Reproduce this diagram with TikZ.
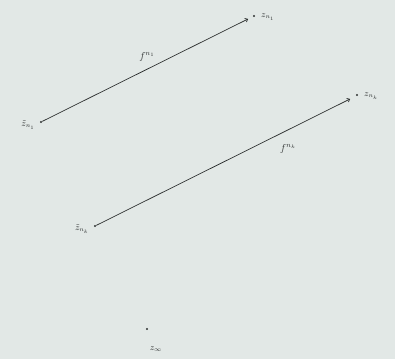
\documentclass[tikz,border=0pt]{standalone}
\usetikzlibrary{arrows.meta}
\definecolor{paper}{RGB}{226,232,230}
\definecolor{ink}{RGB}{45,48,48}
\begin{document}
\begin{tikzpicture}[x=1pt,y=-1pt,
  pt/.style={circle,fill=ink,inner sep=0pt,minimum size=2.4pt},
  lbl/.style={text=ink,inner sep=1pt,font=\small},
  flbl/.style={text=ink,inner sep=1pt,font=\normalsize},
  conn/.style={draw=ink,line width=0.7pt,-{To[length=3pt,width=4.5pt]}}]
\fill[paper] (0,0) rectangle (395,359);
\useasboundingbox (0,0) rectangle (395,359);
\node[pt] (a1) at (41,122) {};
\node[lbl,anchor=east] (la1) at (36,125) {$\tilde z_{n_1}$};
\node[pt] (b1) at (254,16) {};
\coordinate (e1) at (248,19);
\node[lbl,anchor=west] (lb1) at (260,17) {$z_{n_1}$};
\node[flbl] (f1) at (147,57) {$f^{n_1}$};
\draw[conn] (a1) -- (e1);
\node[pt] (a2) at (95,226) {};
\node[lbl,anchor=east] (la2) at (90,229) {$\tilde z_{n_k}$};
\node[pt] (b2) at (357,95) {};
\coordinate (e2) at (350,99);
\node[lbl,anchor=west] (lb2) at (363,96) {$z_{n_k}$};
\node[flbl] (f2) at (288,149) {$f^{n_k}$};
\draw[conn] (a2) -- (e2);
\node[pt] (c) at (147,329) {};
\node[lbl] (lc) at (156,349) {$z_\infty$};
\end{tikzpicture}
\end{document}
